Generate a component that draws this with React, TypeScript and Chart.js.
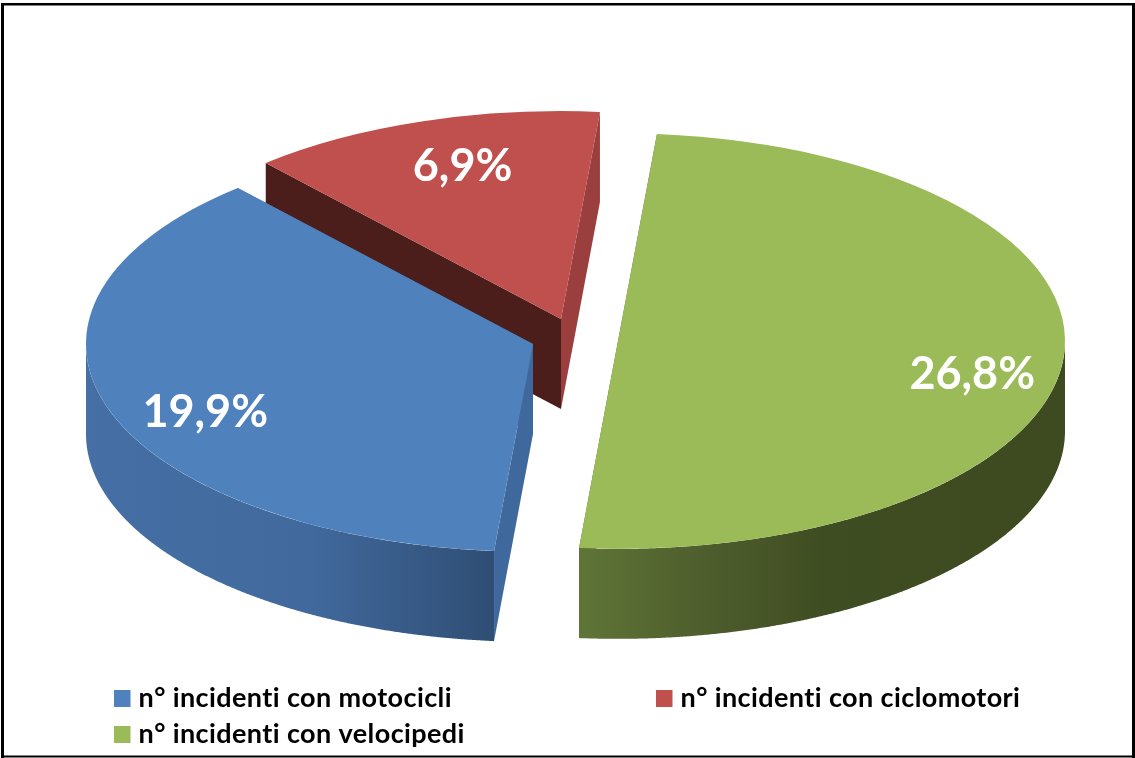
import React, { useEffect, useRef } from "react";
import { Chart, registerables } from "chart.js";

Chart.register(...registerables);

const categories = [
  "n° incidenti con motocicli",
  "n° incidenti con ciclomotori",
  "n° incidenti con velocipedi",
];
const values = [19.9, 6.9, 26.8];
const topColors = ["#4f81bd", "#c0504d", "#9bbb59"];
const explodeX = [-32, -4, 53];
const explodeY = [6, -19, 3];
const cutColors = [
  ["#3f699c", "#3f699c"],
  ["#4b1e1c", "#9a3f3d"],
  ["#55662f", "#55662f"],
];
const wallStops: [number, string][][] = [
  [[0, "#456fa5"], [0.55, "#41699d"], [1, "#2f4e74"]],
  [[0, "#7a302e"], [1, "#7a302e"]],
  [[0, "#5f7537"], [0.25, "#4f5e2d"], [0.5, "#3f4d22"], [1, "#3e4a20"]],
];
const labelNudge = [
  [12, 17],
  [-12, -30],
  [-2, 19],
];
const labelRadius = [0.8, 0.62, 0.8];
const legendSlots = [
  [114, 690],
  [656, 690],
  [114, 726],
];

const SQUASH = 0.465;
const DEPTH = 90;
const RADIUS = 447;
const PIE_Y = 338;
const FONT = "Lato, Carlito, 'Open Sans', sans-serif";

const fmt = (v: number) => v.toFixed(1).replace(".", ",") + "%";

const pie3d = {
  id: "pie3d",
  afterDatasetsUpdate(chart: any) {
    const arcs = chart.getDatasetMeta(0).data;
    arcs.forEach((arc: any, i: number) => {
      arc.x += explodeX[i];
      arc.y += explodeY[i] / SQUASH;
    });
  },
  beforeDatasetsDraw(chart: any) {
    const ctx = chart.ctx;
    const cy = (chart.chartArea.top + chart.chartArea.bottom) / 2;
    const sy = (y: number) => PIE_Y + SQUASH * (y - cy);
    const arcs = chart.getDatasetMeta(0).data;
    [1, 0, 2].forEach((i) => {
      const a = arcs[i];
      const R = a.outerRadius;
      const px = (t: number) => a.x + R * Math.cos(t);
      const py = (t: number) => sy(a.y + R * Math.sin(t));
      const face = (t: number, color: string) => {
        ctx.beginPath();
        ctx.moveTo(a.x, sy(a.y));
        ctx.lineTo(px(t), py(t));
        ctx.lineTo(px(t), py(t) + DEPTH);
        ctx.lineTo(a.x, sy(a.y) + DEPTH);
        ctx.closePath();
        ctx.fillStyle = color;
        ctx.fill();
      };
      face(a.startAngle, cutColors[i][0]);
      face(a.endAngle, cutColors[i][1]);
      // Outer wall: only the front half of the rim faces the viewer.
      const steps = 720;
      const front: number[] = [];
      for (let s = 0; s <= steps; s++) {
        const t = a.startAngle + ((a.endAngle - a.startAngle) * s) / steps;
        if (Math.sin(t) >= 0) front.push(t);
      }
      if (front.length < 2) return;
      ctx.beginPath();
      front.forEach((t, s) => (s === 0 ? ctx.moveTo(px(t), py(t)) : ctx.lineTo(px(t), py(t))));
      [...front].reverse().forEach((t) => ctx.lineTo(px(t), py(t) + DEPTH));
      ctx.closePath();
      const xs = front.map(px);
      const grad = ctx.createLinearGradient(Math.min(...xs), 0, Math.max(...xs), 0);
      wallStops[i].forEach(([o, c]) => grad.addColorStop(o, c));
      ctx.fillStyle = grad;
      ctx.fill();
    });
    ctx.save();
    ctx.translate(0, PIE_Y);
    ctx.scale(1, SQUASH);
    ctx.translate(0, -cy);
  },
  afterDatasetsDraw(chart: any) {
    const ctx = chart.ctx;
    ctx.restore();
    const cy = (chart.chartArea.top + chart.chartArea.bottom) / 2;
    const sy = (y: number) => PIE_Y + SQUASH * (y - cy);
    const arcs = chart.getDatasetMeta(0).data;

    ctx.save();
    ctx.textAlign = "center";
    ctx.textBaseline = "middle";
    ctx.font = `700 45px ${FONT}`;
    ctx.fillStyle = "#ffffff";
    arcs.forEach((a: any, i: number) => {
      const mid = (a.startAngle + a.endAngle) / 2;
      const r = a.outerRadius * labelRadius[i];
      const x = a.x + r * Math.cos(mid) + labelNudge[i][0];
      const y = sy(a.y + r * Math.sin(mid)) + labelNudge[i][1];
      ctx.fillText(fmt(values[i]), x, y);
    });
    ctx.restore();

    ctx.save();
    ctx.font = `700 27px ${FONT}`;
    (ctx as any).letterSpacing = "0.4px";
    ctx.textAlign = "left";
    ctx.textBaseline = "alphabetic";
    categories.forEach((c, i) => {
      const [x, y] = legendSlots[i];
      ctx.fillStyle = topColors[i];
      ctx.fillRect(x, y, 16.5, 17);
      ctx.fillStyle = "#000000";
      ctx.fillText(c, x + 24.5, y + 17);
    });
    ctx.restore();

    ctx.save();
    ctx.fillStyle = "#000000";
    ctx.fillRect(1, 3, 3, 755);
    ctx.fillRect(1, 3, 1134, 2.5);
    ctx.fillRect(1132, 3, 3, 755);
    ctx.fillRect(1, 755.5, 1134, 2);
    ctx.restore();
  },
};

export default function App() {
  const ref = useRef<HTMLCanvasElement>(null);
  useEffect(() => {
    const chart = new Chart(ref.current as HTMLCanvasElement, {
      type: "pie",
      data: {
        labels: categories,
        datasets: [
          {
            data: values,
            backgroundColor: topColors,
            borderWidth: 0,
            clip: false,
          } as any,
        ],
      },
      options: {
        responsive: false,
        animation: false,
        rotation: 185,
        radius: RADIUS,
        layout: { padding: { right: 5 } },
        plugins: {
          legend: { display: false },
          tooltip: { enabled: false },
        },
      } as any,
      plugins: [pie3d],
    });
    return () => chart.destroy();
  }, []);
  return (
    <div style={{ position: "fixed", left: 0, top: 0, width: 1135, height: 758, background: "#ffffff" }}>
      <canvas ref={ref} width={1135} height={758} style={{ display: "block" }} />
    </div>
  );
}
